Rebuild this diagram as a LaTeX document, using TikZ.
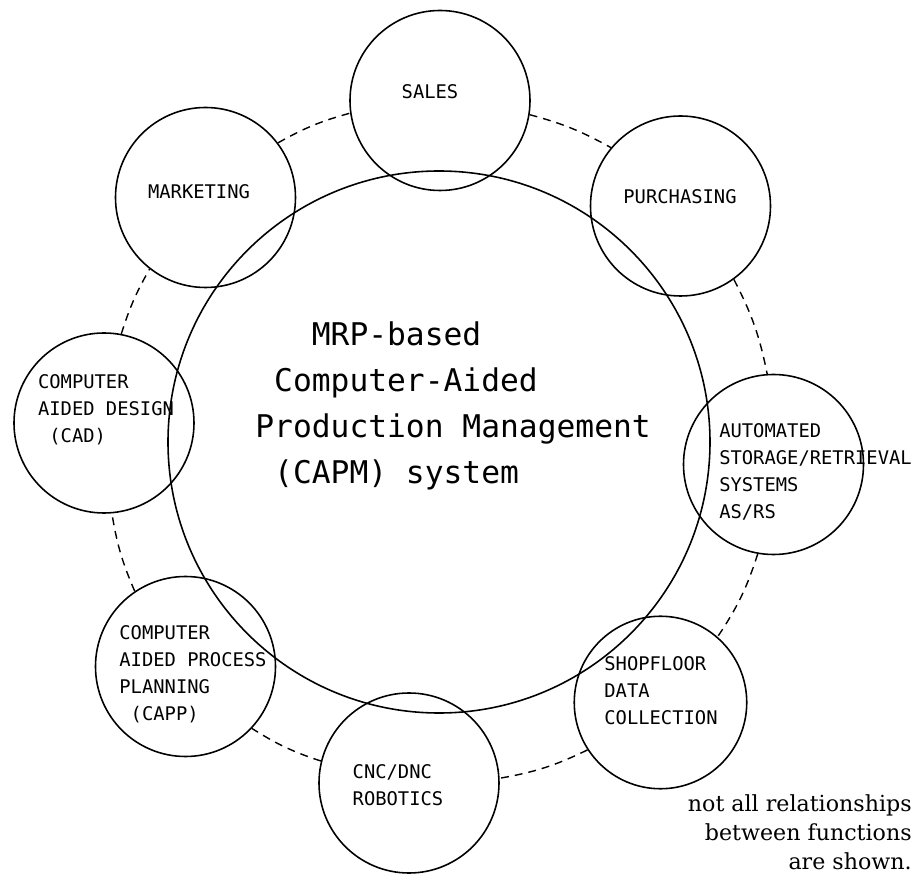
\documentclass[tikz,border=0pt]{standalone}
\usepackage{fontspec}
\usepackage{tikz}
\usetikzlibrary{positioning}
\newfontfamily\plotfont{DejaVu Sans Mono}
\newfontfamily\notefont{DejaVu Serif}

\begin{document}
\begin{tikzpicture}[
  func/.style={circle,draw,line width=0.9pt,minimum size=3.6cm,inner sep=0pt},
  tag/.style={align=left,inner sep=0pt,font=\plotfont\fontsize{10.7}{15.4}\selectfont},
  link/.style={line width=0.8pt,dash pattern=on 4.5pt off 3.4pt}
]
\useasboundingbox (-8.78,-8.86) rectangle (9.64,8.84);

\node[func,minimum size=10.84cm] (capm) at (0,0) {};
\node[anchor=north west,inner sep=0pt,align=left,font=\plotfont\fontsize{17.8}{26.2}\selectfont] (core) at (-3.68,2.42)
  {~~~MRP-based\\~Computer-Aided\\Production Management\\~(CAPM) system};

\node[func] (sales) at (0.02,6.83) {};
\node[func] (mkt) at (-4.67,4.89) {};
\node[func] (pur) at (4.83,4.72) {};
\node[func] (cad) at (-6.7,0.38) {};
\node[func] (asrs) at (6.69,-0.45) {};
\node[func] (capp) at (-5.07,-4.49) {};
\node[func] (cnc) at (-0.6,-6.82) {};
\node[func,minimum size=3.45cm] (sfdc) at (4.43,-5.21) {};

\node[tag] (salesT) at ([shift={(-0.2,0.17)}]sales.center) {SALES};
\node[tag] (mktT) at ([shift={(-0.13,0.11)}]mkt.center) {MARKETING};
\node[tag] (purT) at ([shift={(-0.01,0.18)}]pur.center) {PURCHASING};
\node[tag] (cadT) at ([shift={(0.04,0.26)}]cad.center) {COMPUTER\\AIDED DESIGN\\~(CAD)};
\node[tag] (asrsT) at ([shift={(0.84,-0.14)}]asrs.center) {AUTOMATED\\STORAGE/RETRIEVAL\\SYSTEMS\\AS/RS};
\node[tag] (cappT) at ([shift={(0.15,-0.15)}]capp.center) {COMPUTER\\AIDED PROCESS\\PLANNING\\~(CAPP)};
\node[tag] (cncT) at ([shift={(-0.22,-0.05)}]cnc.center) {CNC/DNC\\ROBOTICS};
\node[tag] (sfdcT) at ([shift={(0.01,0.23)}]sfdc.center) {SHOPFLOOR\\DATA\\COLLECTION};

\draw[link] (mkt.37) to[bend left=7] (sales.188);
\draw[link] (sales.351) to[bend left=7] (pur.140);
\draw[link] (pur.306) to[bend left=8] (asrs.94);
\draw[link] (asrs.260) to[bend left=8] (sfdc.49);
\draw[link] (sfdc.213) to[bend left=8] (cnc.3);
\draw[link] (cnc.166) to[bend left=7] (capp.317);
\draw[link] (capp.124) to[bend left=7] (cad.275);
\draw[link] (cad.79) to[bend left=6] (mkt.232);

\node[anchor=north east,inner sep=0pt,align=right,font=\notefont\fontsize{12.6}{16.5}\selectfont] (note) at (9.46,-7.04)
  {not all relationships\\between functions\\are shown.};
\end{tikzpicture}
\end{document}
